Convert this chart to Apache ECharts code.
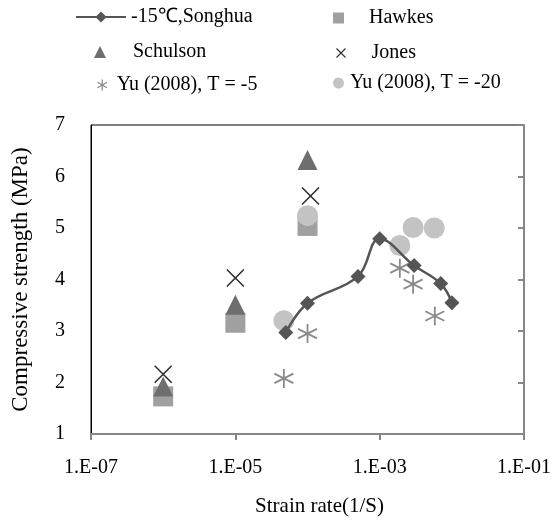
<!DOCTYPE html>
<html>
<head>
<meta charset="utf-8">
<script src="https://cdn.jsdelivr.net/npm/echarts@6/dist/echarts.min.js"></script>
<style>
html, body { margin: 0; padding: 0; background: #fff; }
#chart { width: 554px; height: 522px; }
</style>
</head>
<body>
<div id="chart"></div>
<script>
// strain rate (1/S) and compressive strength (MPa)
var songhuaRate = [5e-5, 1e-4, 5e-4, 1e-3, 3e-3, 7e-3, 1e-2];
var songhuaStrength = [2.97, 3.54, 4.06, 4.79, 4.27, 3.92, 3.55];

var hawkesRate = [1e-6, 1e-5, 1e-4];
var hawkesStrength = [1.73, 3.16, 5.04];

var schulsonRate = [1e-6, 1e-5, 1e-4];
var schulsonStrength = [1.92, 3.51, 6.32];

var jonesRate = [1e-6, 1e-5, 1.1e-4];
var jonesStrength = [2.16, 4.03, 5.62];

var yu5Rate = [4.7e-5, 1e-4, 1.9e-3, 2.9e-3, 5.8e-3];
var yu5Strength = [2.08, 2.95, 4.22, 3.91, 3.29];

var yu20Rate = [4.7e-5, 1e-4, 1.9e-3, 2.9e-3, 5.7e-3];
var yu20Strength = [3.20, 5.24, 4.66, 5.01, 5.00];

var xTicks = [-7, -5, -3, -1]; // decades shown on the axis
var seriesNames = ['-15\u2103,Songhua', 'Schulson', 'Yu (2008), T = -5', 'Hawkes', 'Jones', 'Yu (2008), T = -20'];

var font = 'Liberation Serif';
var xMark = 'path://M0,0L10,10M10,0L0,10';
var starMark = 'path://M5,0L5,10M0.7,2.5L9.3,7.5M0.7,7.5L9.3,2.5';

// x is plotted as log10(rate)
function pts(rate, val) {
    return rate.map(function (r, i) { return [Math.log10(r), val[i]]; });
}

function legendAt(name, left, top, w, h, gap, extra) {
    var lg = {
        data: [name],
        left: left,
        top: top,
        padding: 0,
        itemWidth: w,
        itemHeight: h,
        selectedMode: false,
        textStyle: { fontFamily: font, fontSize: 20, color: '#000', padding: [0, 0, 0, gap], lineHeight: 22 }
    };
    return Object.assign(lg, extra || {});
}

var chart = echarts.init(document.getElementById('chart'));

var option = {
    animation: false,
    backgroundColor: '#fff',
    legend: [
        legendAt(seriesNames[0], 75, 6, 50, 14, 0),
        legendAt(seriesNames[1], 94, 41, 12, 12, 22),
        legendAt(seriesNames[2], 95, 74, 11, 11, 4, { itemStyle: { color: 'none', borderColor: '#8a8a8a', borderWidth: 1.2 } }),
        legendAt(seriesNames[3], 333, 7, 11, 11, 20),
        legendAt(seriesNames[4], 334, 42, 9, 9, 21, { itemStyle: { color: 'none', borderColor: '#333', borderWidth: 1.2 } }),
        legendAt(seriesNames[5], 333, 72, 11, 11, 1)
    ],
    grid: {
        left: 91, right: 29, top: 125, bottom: 82,
        show: true, borderColor: '#000', borderWidth: 1
    },
    xAxis: {
        type: 'value',
        min: -7, max: -1,
        name: 'Strain rate(1/S)',
        nameLocation: 'middle',
        nameGap: 62,
        nameTextStyle: { fontFamily: font, fontSize: 21, color: '#000', padding: [0, 0, 0, 24] },
        axisLine: { show: true, lineStyle: { color: '#868686', width: 2 } },
        axisTick: { show: true, inside: false, length: 6, customValues: xTicks, lineStyle: { color: '#868686', width: 2 } },
        axisLabel: {
            customValues: xTicks,
            margin: 24,
            fontFamily: font, fontSize: 20, color: '#000',
            formatter: function (v) { return '1.E-' + String(-v).padStart(2, '0'); }
        },
        splitLine: { show: false }
    },
    yAxis: [{
        type: 'value',
        min: 1, max: 7, interval: 1,
        position: 'left',
        name: 'Compressive strength (MPa)',
        nameLocation: 'middle',
        nameGap: 59,
        nameTextStyle: { fontFamily: font, fontSize: 23, color: '#000' },
        axisLine: { show: true, lineStyle: { color: '#000', width: 1 } },
        axisTick: { show: false },
        axisLabel: { margin: 26, fontFamily: font, fontSize: 20, color: '#000' },
        splitLine: { show: false }
    }, {
        type: 'value',
        min: 1, max: 7, interval: 1,
        position: 'right',
        axisLine: { show: true, lineStyle: { color: '#868686', width: 2 } },
        axisTick: { show: true, inside: true, length: 6, lineStyle: { color: '#868686', width: 2 } },
        axisLabel: { show: false },
        splitLine: { show: false }
    }],
    series: [{
        name: seriesNames[0],
        type: 'line',
        data: pts(songhuaRate, songhuaStrength),
        smooth: 0.4,
        symbol: 'diamond',
        symbolSize: 15,
        lineStyle: { color: '#555', width: 2.5 },
        itemStyle: { color: '#555' }
    }, {
        name: seriesNames[3],
        type: 'scatter',
        data: pts(hawkesRate, hawkesStrength),
        symbol: 'rect',
        symbolSize: 20,
        itemStyle: { color: '#a0a0a0', opacity: 1 }
    }, {
        name: seriesNames[1],
        type: 'scatter',
        data: pts(schulsonRate, schulsonStrength),
        symbol: 'triangle',
        symbolSize: 20,
        itemStyle: { color: '#6e6e6e', opacity: 1 }
    }, {
        name: seriesNames[4],
        type: 'scatter',
        data: pts(jonesRate, jonesStrength),
        symbol: xMark,
        symbolSize: 17,
        itemStyle: { color: 'none', borderColor: '#2a2a2a', borderWidth: 1.5, opacity: 1 }
    }, {
        name: seriesNames[2],
        type: 'scatter',
        data: pts(yu5Rate, yu5Strength),
        symbol: starMark,
        symbolSize: 19,
        itemStyle: { color: 'none', borderColor: '#8a8a8a', borderWidth: 1.8, opacity: 1 }
    }, {
        name: seriesNames[5],
        type: 'scatter',
        data: pts(yu20Rate, yu20Strength),
        symbol: 'circle',
        symbolSize: 21,
        itemStyle: { color: '#c3c3c3', opacity: 1 }
    }]
};

chart.setOption(option);
</script>
</body>
</html>
